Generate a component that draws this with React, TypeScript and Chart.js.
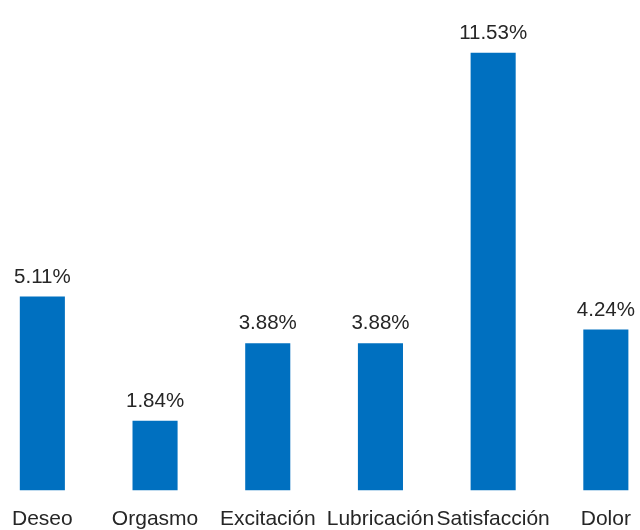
import React, { useEffect, useRef } from "react";
import { Chart, registerables } from "chart.js";

Chart.register(...registerables);

const categories = ["Deseo", "Orgasmo", "Excitación", "Lubricación", "Satisfacción", "Dolor"];
const values = [5.11, 1.84, 3.88, 3.88, 11.53, 4.24];
const valueLabels = ["5.11%", "1.84%", "3.88%", "3.88%", "11.53%", "4.24%"];

const FONT = '"Liberation Sans", Arial, sans-serif';
const TEXT_COLOR = "#262626";

const labelsPlugin = {
  id: "customLabels",
  afterDatasetsDraw(chart: any) {
    const ctx = chart.ctx as CanvasRenderingContext2D;
    const meta = chart.getDatasetMeta(0);
    const area = chart.chartArea;
    ctx.save();
    ctx.fillStyle = TEXT_COLOR;
    ctx.textAlign = "center";
    ctx.textBaseline = "alphabetic";
    meta.data.forEach((bar: any, i: number) => {
      ctx.font = `20.5px ${FONT}`;
      ctx.fillText(valueLabels[i], bar.x, bar.y - 14);
      ctx.font = `21px ${FONT}`;
      ctx.fillText(categories[i], bar.x, area.bottom + 34.5);
    });
    ctx.restore();
  },
};

export default function App() {
  const canvasRef = useRef<HTMLCanvasElement | null>(null);

  useEffect(() => {
    if (!canvasRef.current) return;
    const chart = new Chart(canvasRef.current, {
      type: "bar",
      data: {
        labels: categories,
        datasets: [
          {
            data: values,
            backgroundColor: "#0070C0",
            borderWidth: 0,
            barPercentage: 0.4,
            categoryPercentage: 1,
          },
        ],
      },
      options: {
        animation: false,
        responsive: true,
        maintainAspectRatio: false,
        layout: { padding: { left: 0, right: 0, top: 35, bottom: 39.5 } },
        plugins: {
          legend: { display: false },
          tooltip: { enabled: false },
          title: { display: false },
        },
        scales: {
          x: { display: false },
          y: { display: false, min: 0, max: 12 },
        },
      },
      plugins: [labelsPlugin],
    });
    return () => chart.destroy();
  }, []);

  return (
    <div
      style={{
        position: "fixed",
        top: 0,
        left: 0,
        width: 640,
        height: 530,
        overflow: "hidden",
        background: "#ffffff",
      }}
    >
      <div style={{ position: "absolute", left: -13.85, top: 0, width: 676.2, height: 530 }}>
        <canvas ref={canvasRef} />
      </div>
    </div>
  );
}
